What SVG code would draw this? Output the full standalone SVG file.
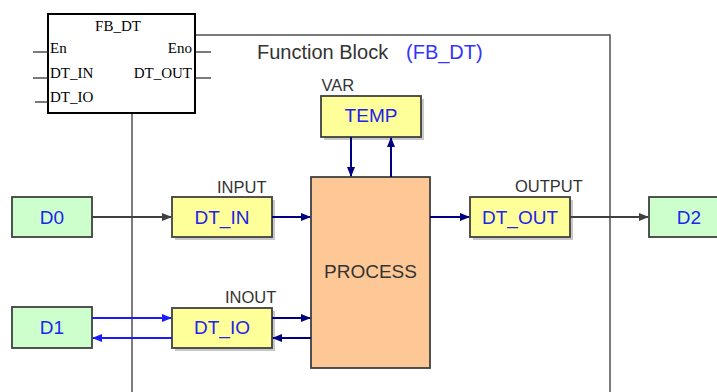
<svg xmlns="http://www.w3.org/2000/svg" width="717" height="392" viewBox="0 0 717 392">
<defs>
<marker id="ah" markerWidth="10" markerHeight="8" refX="9" refY="4" orient="auto" markerUnits="userSpaceOnUse"><path d="M0,0 L10,4 L0,8 Z" fill="context-stroke"/></marker>
<marker id="ahG" markerWidth="10" markerHeight="8" refX="9" refY="4" orient="auto" markerUnits="userSpaceOnUse"><path d="M0,0 L10,4 L0,8 Z" fill="#404040"/></marker>
<marker id="ahN" markerWidth="10" markerHeight="8" refX="9" refY="4" orient="auto" markerUnits="userSpaceOnUse"><path d="M0,0 L10,4 L0,8 Z" fill="#000080"/></marker>
<marker id="ahB" markerWidth="10" markerHeight="8" refX="9" refY="4" orient="auto" markerUnits="userSpaceOnUse"><path d="M0,0 L10,4 L0,8 Z" fill="#1a1aff"/></marker>
</defs>
<style>
.frame{fill:none;stroke:#505050;stroke-width:1.5}
.pin{stroke:#202020;stroke-width:1.2}
.serif{font-family:"Liberation Serif","Times New Roman",serif;font-size:15px;fill:#000}
.sans{font-family:"Liberation Sans",Arial,sans-serif}
.lbl{font-size:16.5px;fill:#333}
.val{font-size:19px;fill:#2222ee}
.shadow{fill:#c8c8c8}
.yel{fill:#ffff99;stroke:#404040;stroke-width:1.8}
.grn{fill:#ccffcc;stroke:#404040;stroke-width:1.8}
.proc{fill:#fdc896;stroke:#404040;stroke-width:1.8}
.gray{stroke:#404040;stroke-width:1.8;fill:none;marker-end:url(#ahG)}
.navy{stroke:#000080;stroke-width:2;fill:none;marker-end:url(#ahN)}
.blue{stroke:#1a1aff;stroke-width:2;fill:none;marker-end:url(#ahB)}
</style>
<rect width="717" height="392" fill="#fff"/>
<g id="frame">
<polyline class="frame" points="195,35 610,35 610,392"/>
<line class="frame" x1="132" y1="113" x2="132" y2="392"/>
<text class="sans" x="257" y="59" font-size="20" fill="#333">Function Block</text>
<text class="sans" x="406" y="59" font-size="20" fill="#3333ff">(FB_DT)</text>
</g>
<g id="fb_dt">
<rect x="48" y="14" width="147" height="99" fill="#fff" stroke="#000" stroke-width="2"/>
<line class="pin" x1="33" y1="52" x2="48" y2="52"/>
<line class="pin" x1="33" y1="78" x2="48" y2="78"/>
<line class="pin" x1="35" y1="102" x2="48" y2="102"/>
<line class="pin" x1="195" y1="52" x2="211" y2="52"/>
<line class="pin" x1="195" y1="78" x2="211" y2="78"/>
<text class="serif" x="118" y="31" text-anchor="middle">FB_DT</text>
<text class="serif" x="50" y="53">En</text>
<text class="serif" x="50" y="78">DT_IN</text>
<text class="serif" x="50" y="102">DT_IO</text>
<text class="serif" x="192" y="53" text-anchor="end">Eno</text>
<text class="serif" x="192" y="78" text-anchor="end">DT_OUT</text>
</g>
<g id="d0">
<rect class="grn" x="12" y="197" width="80" height="40"/>
<text class="sans val" x="52" y="223.5" text-anchor="middle">D0</text>
</g>
<g id="d1">
<rect class="grn" x="12" y="307" width="80" height="41"/>
<text class="sans val" x="52" y="334" text-anchor="middle">D1</text>
</g>
<g id="d2">
<rect class="grn" x="649" y="197" width="80" height="40"/>
<text class="sans val" x="689" y="223.5" text-anchor="middle">D2</text>
</g>
<g id="dt_in">
<rect class="shadow" x="175" y="200" width="100" height="40"/>
<rect class="yel" x="172" y="197" width="100" height="40"/>
<text class="sans val" x="222" y="223.5" text-anchor="middle">DT_IN</text>
<text class="sans lbl" x="217" y="192.5">INPUT</text>
</g>
<g id="dt_io">
<rect class="shadow" x="175" y="311" width="100" height="40"/>
<rect class="yel" x="172" y="308" width="100" height="40"/>
<text class="sans val" x="222" y="334" text-anchor="middle">DT_IO</text>
<text class="sans lbl" x="225" y="302.5">INOUT</text>
</g>
<g id="dt_out">
<rect class="shadow" x="473" y="200" width="100" height="40"/>
<rect class="yel" x="470" y="197" width="100" height="40"/>
<text class="sans val" x="520" y="223.5" text-anchor="middle">DT_OUT</text>
<text class="sans lbl" x="515" y="191.5">OUTPUT</text>
</g>
<g id="temp">
<rect class="shadow" x="324" y="99" width="100" height="41"/>
<rect class="yel" x="321" y="96" width="100" height="41"/>
<text class="sans val" x="371" y="122" text-anchor="middle">TEMP</text>
<text class="sans lbl" x="321.5" y="90.5">VAR</text>
</g>
<g id="process">
<rect class="proc" x="311" y="177" width="119" height="191"/>
<text class="sans" x="370.5" y="278" text-anchor="middle" font-size="19" fill="#333">PROCESS</text>
</g>
<g id="connectors">
<line class="gray" x1="92" y1="217" x2="171" y2="217"/>
<line class="navy" x1="272" y1="217" x2="310" y2="217"/>
<line class="navy" x1="430" y1="217" x2="469" y2="217"/>
<line class="gray" x1="570" y1="217" x2="648" y2="217"/>
<line class="blue" x1="92" y1="318" x2="171" y2="318"/>
<line class="blue" x1="172" y1="338" x2="93" y2="338"/>
<line class="navy" x1="272" y1="318" x2="310" y2="318"/>
<line class="navy" x1="311" y1="338" x2="273" y2="338"/>
<line class="navy" x1="351" y1="137" x2="351" y2="176"/>
<line class="navy" x1="391" y1="177" x2="391" y2="138"/>
</g>
</svg>
